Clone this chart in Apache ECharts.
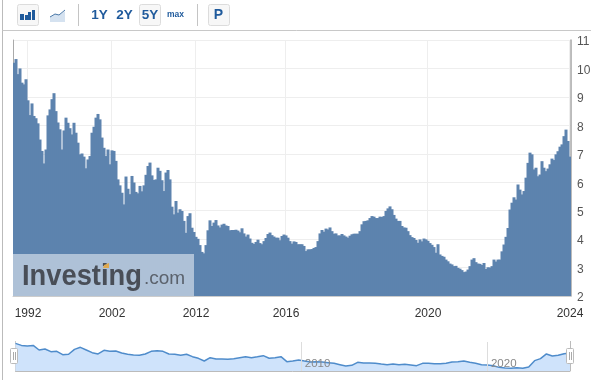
<!DOCTYPE html>
<html>
<head>
<meta charset="utf-8">
<style>
html, body { margin: 0; padding: 0; background: #fff; }
#chart { width: 591px; height: 380px; }
</style>
<script src="https://cdn.jsdelivr.net/npm/echarts@6/dist/echarts.min.js"></script>
</head>
<body>
<div id="chart"></div>
<script>
// main chart values
const rates = [
    10.2, 10.33, 9.8, 10.0, 9.5, 9.44, 9.62, 8.88, 8.36, 8.77,
    8.33, 8.25, 8.07, 7.5, 7.1, 6.66, 7.15, 8.35, 8.56, 8.92,
    9.13, 8.5, 8.1, 7.86, 7.15, 7.82, 8.27, 8.09, 7.9, 7.68,
    8.09, 7.74, 7.39, 6.98, 7.01, 6.9, 6.49, 6.8, 6.92, 7.74,
    7.95, 8.27, 8.4, 8.21, 7.57, 7.21, 6.92, 7.15, 6.63, 7.12,
    7.1, 6.75, 6.1, 5.89, 5.63, 5.22, 6.2, 5.77, 5.58, 6.22,
    5.99, 5.66, 5.61, 5.87, 5.68, 5.89, 6.26, 6.57, 6.69, 6.24,
    6.08, 6.1, 6.51, 6.4, 6.07, 5.69, 6.34, 6.43, 6.1, 5.14,
    4.87, 5.34, 4.93, 5.05, 4.99, 4.64, 4.22, 4.81, 4.91, 4.4,
    4.25, 4.08, 4.01, 3.79, 3.55, 3.5, 3.79, 4.31, 4.66, 4.46,
    4.58, 4.67, 4.48, 4.41, 4.51, 4.54, 4.48, 4.46, 4.31, 4.32,
    4.32, 4.33, 4.3, 4.24, 4.38, 4.2, 4.09, 4.16, 4.02, 3.87,
    3.83, 3.9, 3.98, 3.86, 3.82, 3.93, 4.04, 4.18, 4.23, 4.14,
    4.09, 4.05, 4.05, 3.96, 4.11, 4.16, 4.13, 4.05, 3.93, 3.84,
    3.92, 3.9, 3.82, 3.82, 3.82, 3.76, 3.58, 3.64, 3.64, 3.65,
    3.69, 3.72, 3.93, 4.2, 4.32, 4.26, 4.37, 4.34, 4.41, 4.28,
    4.19, 4.2, 4.13, 4.13, 4.18, 4.13, 4.09, 4.05, 4.12, 4.17,
    4.19, 4.19, 4.19, 4.28, 4.52, 4.63, 4.64, 4.66, 4.74, 4.81,
    4.79, 4.74, 4.74, 4.79, 4.78, 4.81, 4.99, 5.08, 5.15, 5.05,
    4.85, 4.72, 4.64, 4.64, 4.46, 4.41, 4.4, 4.28, 4.14, 4.07,
    4.04, 3.97, 3.87, 3.99, 3.92, 4.02, 3.99, 3.94, 3.86, 3.8,
    3.72, 3.52, 3.82, 3.46, 3.41, 3.38, 3.28, 3.22, 3.14, 3.11,
    3.05, 3.06, 2.99, 2.96, 2.91, 2.84, 2.86, 2.93, 3.05, 3.28,
    3.33, 3.19, 3.14, 3.13, 3.09, 3.16, 2.95, 3.01, 3.0, 3.05,
    3.28, 3.21, 3.28, 3.28, 3.57, 3.81, 4.08, 4.39, 5.04, 5.28,
    5.47, 5.39, 5.92, 5.74, 5.57, 5.69, 6.16, 6.68, 7.04, 6.98,
    6.45, 6.51, 6.21, 6.27, 6.74, 6.51, 6.39, 6.48, 6.63, 6.83,
    6.78, 6.98, 7.09, 7.25, 7.33, 7.62, 7.85, 7.45, 6.9
];
const tickIndex = [7, 49, 91, 136, 207, 278];
const tickLabels = ['1992', '2002', '2012', '2016', '2020', '2024'];

// navigator strip under the chart
const navRates = [
    10.1, 9.5, 9.33, 9.5, 8.16, 8.45, 7.67, 7.77, 6.79, 6.9,
    8.35, 8.94, 8.16, 7.38, 7.0, 8.06, 7.77, 7.87, 7.28, 6.9,
    6.69, 6.6, 7.0, 7.77, 7.96, 7.77, 7.0, 6.9, 6.6, 6.9,
    6.2, 5.72, 4.93, 5.91, 5.52, 5.52, 5.42, 5.62, 5.91, 6.2,
    5.91, 6.2, 6.5, 5.72, 5.91, 6.2, 4.74, 4.93, 5.23, 4.93,
    4.64, 4.74, 4.64, 4.45, 4.25, 3.86, 3.47, 3.66, 4.55, 4.35,
    4.35, 4.25, 4.05, 3.86, 4.05, 3.86, 3.96, 3.76, 3.56, 4.25,
    4.25, 4.15, 4.15, 4.25, 4.64, 4.74, 4.93, 4.55, 4.25, 3.86,
    3.76, 3.56, 3.07, 2.88, 2.78, 2.98, 2.78, 3.17, 5.03, 5.62,
    7.0, 6.4, 6.6, 7.08, 7.3
];
const navStart = 1994.68;
const navEnd = 2024.46;
const navTicks = [2010, 2020];
const navYears = navRates.map((v, i) => navStart + (navEnd - navStart) * i / (navRates.length - 1));

const rangeButtons = [
    { text: '1Y', x: 99.5, size: 13.5 },
    { text: '2Y', x: 124.5, size: 13.5 },
    { text: '5Y', x: 150, size: 13.5 },
    { text: 'max', x: 175.5, size: 8.5 },
    { text: 'P', x: 218.5, size: 14 },
];

const FONT = '"Liberation Sans", Arial, sans-serif';
const BLUE = '#1f5a9c';

function box(x, y, w, h) {
    return {
        type: 'rect',
        shape: { x: x + 0.5, y: y + 0.5, width: w, height: h, r: 2 },
        style: { fill: '#f7f7f7', stroke: '#dcdcdc', lineWidth: 1 },
    };
}
function line(x1, y1, x2, y2, color, width) {
    return {
        type: 'line',
        shape: { x1, y1, x2, y2 },
        style: { stroke: color, lineWidth: width || 1 },
    };
}
function solid(x, y, w, h, color) {
    return { type: 'rect', shape: { x, y, width: w, height: h }, style: { fill: color } };
}
function handle(x) {
    return [
        {
            type: 'rect',
            shape: { x: x + 0.5, y: 348.5, width: 7, height: 15, r: 1 },
            style: { fill: '#fff', stroke: '#bbb', lineWidth: 1 },
            z: 20,
        },
        { ...line(x + 3.5, 352, x + 3.5, 360, '#aaa'), z: 21 },
        { ...line(x + 5.5, 352, x + 5.5, 360, '#aaa'), z: 21 },
    ];
}

const chart = echarts.init(document.getElementById('chart'), null, { renderer: 'canvas' });

chart.setOption({
    animation: false,
    backgroundColor: '#fff',
    textStyle: { fontFamily: FONT },
    grid: [
        // outerBoundsMode none: the 2024 label must not squeeze the plot
        { left: 13, right: 20, top: 40, height: 256, outerBoundsMode: 'none' },
        { left: 15.5, right: 21, top: 342, height: 29, outerBoundsMode: 'none' },
    ],
    xAxis: [
        {
            type: 'category',
            gridIndex: 0,
            data: rates.map((v, i) => {
                const at = tickIndex.indexOf(i);
                return at >= 0 ? tickLabels[at] : '';
            }),
            axisLine: { lineStyle: { color: '#ccc', width: 1 } },
            axisTick: { show: false },
            axisLabel: {
                interval: (i) => tickIndex.includes(i),
                color: '#333',
                fontSize: 12,
                margin: 12,
                showMaxLabel: true,
            },
            splitLine: {
                show: true,
                interval: (i) => tickIndex.includes(i),
                lineStyle: { color: '#eee', width: 1 },
            },
        },
        {
            type: 'value',
            gridIndex: 1,
            z: 10,
            min: navStart,
            max: navEnd,
            axisLine: { show: true, lineStyle: { color: '#bbb', width: 1 } },
            axisTick: { show: false, customValues: navTicks },
            axisLabel: {
                customValues: navTicks,
                inside: true,
                color: '#888',
                fontSize: 11.5,
                margin: 1,
                align: 'left',
                padding: [0, 0, 0, 4],
                formatter: (v) => String(Math.round(v)),
            },
            splitLine: { show: true, lineStyle: { color: '#ddd', width: 1 } },
        },
    ],
    yAxis: [
        {
            type: 'value',
            gridIndex: 0,
            position: 'right',
            min: 2,
            max: 11,
            interval: 1,
            axisLine: { show: true, lineStyle: { color: '#aaa', width: 1.5 } },
            axisTick: { show: false },
            axisLabel: {
                color: '#555',
                fontSize: 12,
                margin: 6,
                // labels sit about 2px under their gridline in the reference
                verticalAlign: 'top',
                lineHeight: 4,
            },
            splitLine: { show: true, lineStyle: { color: '#eee', width: 1 } },
        },
        {
            type: 'value',
            gridIndex: 0,
            position: 'left',
            min: 2,
            max: 11,
            interval: 1,
            axisLine: { show: true, lineStyle: { color: '#aaa', width: 1 } },
            axisTick: { show: false },
            axisLabel: { show: false },
            splitLine: { show: false },
        },
        {
            type: 'value',
            gridIndex: 1,
            min: 2,
            max: 10.5,
            axisLine: { show: false },
            axisTick: { show: false },
            axisLabel: { show: false },
            splitLine: { show: false },
        },
    ],
    series: [
        {
            type: 'bar',
            xAxisIndex: 0,
            yAxisIndex: 0,
            data: rates,
            // wider than the 2px band so the bars close up without seams
            barWidth: 3,
            barGap: 0,
            itemStyle: { color: '#5d83ae' },
            z: 3,
        },
        {
            type: 'line',
            xAxisIndex: 1,
            yAxisIndex: 2,
            data: navYears.map((y, i) => [y, navRates[i]]),
            showSymbol: false,
            lineStyle: { color: '#4f8ccb', width: 1.5 },
            areaStyle: { color: '#cfe3fb', opacity: 1 },
            z: 3,
        },
    ],
    graphic: [
        // page frame and toolbar
        line(2.5, 0, 2.5, 380, '#bbb'),
        line(2.5, 30.5, 591, 30.5, '#c8c8c8'),
        box(17, 4, 21, 21),
        solid(20, 14, 4, 6, BLUE),
        solid(25, 15, 3, 5, BLUE),
        solid(28, 12, 3, 8, BLUE),
        solid(32, 10, 3, 10, BLUE),
        {
            type: 'polygon',
            shape: { points: [[50, 22], [50, 17], [55, 14], [59, 15], [65, 11], [65, 22]] },
            style: { fill: '#d5e2f0' },
        },
        {
            type: 'polyline',
            shape: { points: [[50, 17], [55, 14], [59, 15], [65, 10]] },
            style: { stroke: '#4a78a8', fill: 'none', lineWidth: 1 },
        },
        line(78.5, 4, 78.5, 26, '#c4c4c4'),
        box(139, 4, 21, 21),
        line(197.5, 4, 197.5, 26, '#c4c4c4'),
        box(208, 4, 21, 21),
        ...rangeButtons.map((b) => ({
            type: 'text',
            x: b.x,
            y: 15,
            style: {
                text: b.text,
                fill: BLUE,
                font: `bold ${b.size}px ${FONT}`,
                textAlign: 'center',
                textVerticalAlign: 'middle',
            },
            z: 10,
        })),
        // watermark
        { ...solid(13, 254, 181, 42, 'rgba(255,255,255,0.5)'), z: 10 },
        {
            type: 'text',
            x: 22,
            y: 277,
            scaleX: 0.91,
            style: {
                text: 'Investing',
                fill: '#494e57',
                font: `bold 30px ${FONT}`,
                textVerticalAlign: 'middle',
            },
            z: 11,
        },
        {
            type: 'text',
            x: 144,
            y: 279,
            style: {
                text: '.com',
                fill: '#5b626c',
                font: `19px ${FONT}`,
                textVerticalAlign: 'middle',
            },
            z: 11,
        },
        {
            type: 'polygon',
            shape: { points: [[104, 265], [109, 263], [109, 268], [103, 268]] },
            style: { fill: '#dfa94f' },
            z: 12,
        },
        // navigator handles
        line(15.5, 341, 15.5, 371, '#ccc'),
        line(570.5, 341, 570.5, 371, '#bbb'),
        ...handle(10),
        ...handle(566),
    ],
});
</script>
</body>
</html>
